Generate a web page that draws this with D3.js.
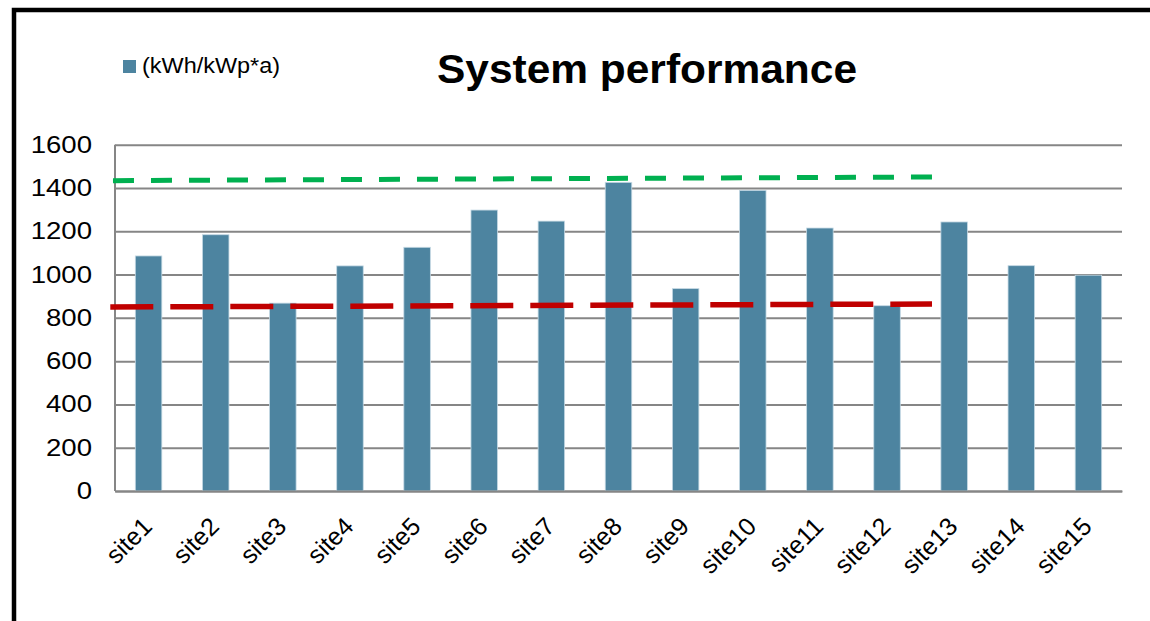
<!DOCTYPE html>
<html>
<head>
<meta charset="utf-8">
<script src="https://cdn.jsdelivr.net/npm/d3@7"></script>
<style>
  html, body { margin: 0; padding: 0; background: #fff; }
  svg { display: block; }
  text { font-family: "Liberation Sans", Arial, sans-serif; fill: #000; }
</style>
</head>
<body>
<svg id="chart" width="1150" height="621"></svg>
<script>
// ---- data ----
const categories = ["site1","site2","site3","site4","site5","site6","site7","site8","site9","site10","site11","site12","site13","site14","site15"];
const performance = [1086, 1184, 868, 1040, 1126, 1298, 1247, 1426, 935, 1389, 1215, 856, 1243, 1041, 997];
const yTicks = [0, 200, 400, 600, 800, 1000, 1200, 1400, 1600];
const seriesName = "(kWh/kWp*a)";
const chartTitle = "System performance";
// dashed reference lines: position in category units, value at start/end
const greenLineX = [-0.03, 12.2];
const greenLineY = [1434, 1451];
const redLineX = [-0.07, 12.17];
const redLineY = [850, 864];

// ---- layout ----
const W = 1150, H = 621;
const plot = { left: 115, right: 1122, top: 144.7, bottom: 491 };
const barColor = "#4d84a0";
const gridColor = "#868686";

const svg = d3.select("#chart");

const x = d3.scaleBand().domain(categories).range([plot.left, plot.right])
  .paddingInner(0.605).paddingOuter(0.3025);
const xLin = d3.scaleLinear().domain([0, categories.length]).range([plot.left, plot.right]);
const y = d3.scaleLinear().domain([0, 1600]).range([plot.bottom, plot.top]);

// gridlines
const yAxis = d3.axisLeft(y).tickValues(yTicks).tickSize(-(plot.right - plot.left)).tickFormat("");
const gy = svg.append("g").attr("transform", `translate(${plot.left},0)`).call(yAxis);
gy.select(".domain").remove();
gy.selectAll(".tick line").attr("stroke", gridColor).attr("stroke-width", 2);

// y tick labels
svg.append("g").selectAll("text").data(yTicks).join("text")
  .attr("transform", d => `translate(92,${y(d) + 8}) scale(1.2,1)`)
  .attr("text-anchor", "end")
  .style("font-size", "23px")
  .text(d => d);

// bars
svg.append("g").selectAll("rect").data(performance).join("rect")
  .attr("x", (d, i) => x(categories[i]))
  .attr("y", d => y(d))
  .attr("width", x.bandwidth())
  .attr("height", d => y(0) - y(d))
  .attr("fill", barColor)
  .attr("stroke", "#c5d9e4")
  .attr("stroke-width", 0.8);

// axis lines
svg.append("line").attr("x1", plot.left).attr("x2", plot.left)
  .attr("y1", plot.top).attr("y2", plot.bottom)
  .attr("stroke", gridColor).attr("stroke-width", 2);
const xAxis = d3.axisBottom(x).tickSize(0).tickFormat("");
const gx = svg.append("g").attr("transform", `translate(0,${plot.bottom})`).call(xAxis);
gx.select(".domain").attr("stroke", gridColor).attr("stroke-width", 2);

// x labels
svg.append("g").selectAll("text").data(categories).join("text")
  .attr("transform", d => `translate(${x(d) + x.bandwidth() / 2 + 5},${plot.bottom + 37}) rotate(-45)`)
  .attr("text-anchor", "end")
  .style("font-size", "25px")
  .text(d => d);

// dashed reference lines
const line = d3.line().x(d => xLin(d[0])).y(d => y(d[1]));
svg.append("path")
  .attr("d", line(d3.zip(greenLineX, greenLineY)))
  .attr("fill", "none").attr("stroke", "#00b050").attr("stroke-width", 5)
  .attr("stroke-dasharray", "21,17");
svg.append("path")
  .attr("d", line(d3.zip(redLineX, redLineY)))
  .attr("fill", "none").attr("stroke", "#c00000").attr("stroke-width", 5.5)
  .attr("stroke-dasharray", "43,17");

// title
svg.append("text")
  .attr("x", 647).attr("y", 83)
  .attr("text-anchor", "middle")
  .attr("textLength", 420).attr("lengthAdjust", "spacingAndGlyphs")
  .style("font-size", "40px").style("font-weight", "bold")
  .text(chartTitle);

// legend
svg.append("rect").attr("x", 123).attr("y", 60).attr("width", 13).attr("height", 13).attr("fill", barColor);
svg.append("text").attr("x", 142).attr("y", 73)
  .attr("textLength", 138).attr("lengthAdjust", "spacingAndGlyphs")
  .style("font-size", "22px").text(seriesName);

// outer frame (top and left edges visible)
svg.append("path").attr("d", `M14,${H + 5} V10 H${W + 5}`)
  .attr("fill", "none").attr("stroke", "#000").attr("stroke-width", 4.5);
</script>
</body>
</html>
